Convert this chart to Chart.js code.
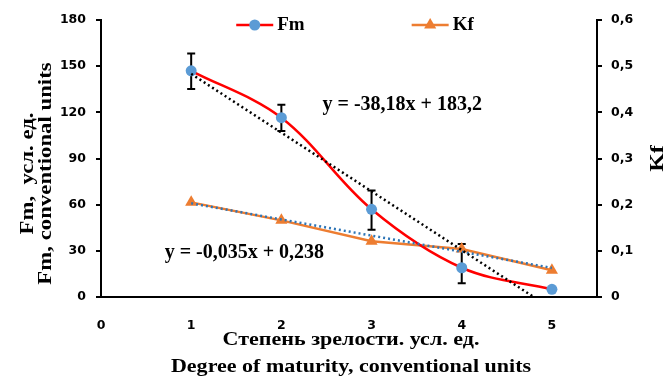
<!DOCTYPE html>
<html>
<head>
<meta charset="utf-8">
<script src="https://cdn.jsdelivr.net/npm/chart.js@4.4.1/dist/chart.umd.min.js"></script>
<style>
  html, body { margin: 0; padding: 0; background: #fff; }
  #wrap { width: 669px; height: 380px; }
</style>
</head>
<body>
<div id="wrap"><canvas id="myChart"></canvas></div>
<script>
const X_VALUES = [1, 2, 3, 4, 5];
const FM_VALUES = [147, 116.5, 57, 19, 5];
const FM_ERR_PLUS = [11.3, 8.5, 12.2, 15.5, 0];
const FM_ERR_MINUS = [11.9, 8.7, 13.3, 10, 0];
const KF_VALUES = [0.205, 0.166, 0.121, 0.104, 0.058];
// trend lines, read at x = 1 and x = 5
const TREND_X = [1, 5];
const FM_TREND = [145, -7.7];
const KF_TREND = [0.203, 0.063];
const FM_TREND_TEXT = "y = -38,18x + 183,2";
const KF_TREND_TEXT = "y = -0,035x + 0,238";
const X_TITLE = ["Степень зрелости. усл. ед.", "Degree of maturity, conventional units"];
const Y_TITLE = ["Fm,  усл. ед.", "Fm, conventional units"];
const Y1_TITLE = "Kf";

const SERIF = "'Liberation Serif', 'Times New Roman', serif";
const TICK_FONT = { family: "'DejaVu Sans', Verdana, sans-serif", size: 12.5, weight: "bold" };

const toPoints = (xs, ys) => xs.map((x, i) => ({ x: x, y: ys[i] }));

const errorBars = {
  id: "errorBars",
  beforeDatasetsDraw(chart) {
    const ctx = chart.ctx;
    const sx = chart.scales.x;
    const sy = chart.scales.y;
    ctx.save();
    ctx.strokeStyle = "#000";
    ctx.lineWidth = 2;
    X_VALUES.forEach((v, i) => {
      if (!FM_ERR_PLUS[i] && !FM_ERR_MINUS[i]) return;
      const px = sx.getPixelForValue(v);
      const top = sy.getPixelForValue(FM_VALUES[i] + FM_ERR_PLUS[i]);
      const bot = sy.getPixelForValue(FM_VALUES[i] - FM_ERR_MINUS[i]);
      ctx.beginPath();
      ctx.moveTo(px, top);
      ctx.lineTo(px, bot);
      ctx.moveTo(px - 4, top);
      ctx.lineTo(px + 4, top);
      ctx.moveTo(px - 4, bot);
      ctx.lineTo(px + 4, bot);
      ctx.stroke();
    });
    ctx.restore();
  },
};

// excel style legend: line with marker, then the name
const lineLegend = {
  id: "lineLegend",
  afterDraw(chart, args, opts) {
    const ctx = chart.ctx;
    const items = chart.data.datasets.filter((d) => !d.isTrend);
    const area = chart.chartArea;
    ctx.save();
    ctx.font = opts.font;
    ctx.textBaseline = "middle";
    const widths = items.map(
      (d) => opts.lineLength + opts.textGap + ctx.measureText(d.label).width
    );
    const total = widths.reduce((a, b) => a + b, 0) + opts.itemGap * (items.length - 1);
    let left = (area.left + area.right) / 2 + opts.shift - total / 2;
    const y = area.top + opts.offsetY;
    items.forEach((d, i) => {
      ctx.strokeStyle = d.borderColor;
      ctx.lineWidth = d.borderWidth;
      ctx.beginPath();
      ctx.moveTo(left, y);
      ctx.lineTo(left + opts.lineLength, y);
      ctx.stroke();
      ctx.fillStyle = d.pointBackgroundColor;
      Chart.helpers.drawPoint(
        ctx,
        { pointStyle: d.pointStyle, radius: d.pointRadius, rotation: 0, borderWidth: 0 },
        left + opts.lineLength / 2,
        y
      );
      ctx.fillStyle = "#000";
      ctx.fillText(d.label, left + opts.lineLength + opts.textGap, y);
      left += widths[i] + opts.itemGap;
    });
    ctx.restore();
  },
};

// trend equations and axis titles (titles are a bit wide, like in the source)
const chartTexts = {
  id: "chartTexts",
  afterDraw(chart, args, o) {
    const ctx = chart.ctx;
    const sx = chart.scales.x;
    const area = chart.chartArea;
    ctx.save();
    ctx.fillStyle = "#000";
    ctx.textAlign = "center";
    ctx.textBaseline = "middle";
    ctx.font = o.font;
    o.labels.forEach((l) => {
      const sy = chart.scales[l.axis];
      ctx.fillText(l.text, sx.getPixelForValue(l.x), sy.getPixelForValue(l.y));
    });

    const drawText = (text, x, y, angle, stretch) => {
      ctx.save();
      ctx.translate(x, y);
      ctx.rotate(angle);
      ctx.scale(stretch, 1);
      ctx.fillText(text, 0, 0);
      ctx.restore();
    };
    ctx.textBaseline = "alphabetic";
    ctx.font = o.titleFont;
    const cx = (area.left + area.right) / 2 + 2;
    X_TITLE.forEach((t, i) => drawText(t, cx, sx.top + o.xBaselines[i], 0, o.xStretch));
    const cy = (area.top + area.bottom) / 2;
    const y = chart.scales.y;
    Y_TITLE.forEach((t, i) =>
      drawText(t, y.left + o.yBaselines[i], cy + o.yShift, -Math.PI / 2, o.yStretch)
    );
    const y1 = chart.scales.y1;
    drawText(Y1_TITLE, y1.right - o.y1Inset, cy, -Math.PI / 2, o.y1Stretch);
    ctx.restore();
  },
};

const ctx = document.getElementById("myChart");
const myChart = new Chart(ctx, {
  type: "scatter",
  data: {
    datasets: [
      {
        label: "Fm trend",
        isTrend: true,
        data: toPoints(TREND_X, FM_TREND),
        showLine: true,
        borderColor: "#000",
        borderWidth: 2.5,
        borderDash: [2, 3],
        pointRadius: 0,
        yAxisID: "y",
        order: 0,
      },
      {
        label: "Kf trend",
        isTrend: true,
        data: toPoints(TREND_X, KF_TREND),
        showLine: true,
        borderColor: "#2E75B6",
        borderWidth: 2.5,
        borderDash: [2, 3],
        pointRadius: 0,
        yAxisID: "y1",
        order: 0,
      },
      {
        label: "Fm",
        data: toPoints(X_VALUES, FM_VALUES),
        showLine: true,
        tension: 0.35,
        borderColor: "#FF0000",
        borderWidth: 2.5,
        pointStyle: "circle",
        pointRadius: 5.5,
        pointBackgroundColor: "#5B9BD5",
        pointBorderWidth: 0,
        yAxisID: "y",
        order: 1,
      },
      {
        label: "Kf",
        data: toPoints(X_VALUES, KF_VALUES),
        showLine: true,
        borderColor: "#ED7D31",
        borderWidth: 2.5,
        pointStyle: "triangle",
        pointRadius: 7,
        pointBackgroundColor: "#ED7D31",
        pointBorderWidth: 0,
        yAxisID: "y1",
        order: 1,
      },
    ],
  },
  options: {
    responsive: true,
    maintainAspectRatio: false,
    animation: false,
    devicePixelRatio: 1,
    layout: { padding: { top: 20 } },
    plugins: {
      legend: { display: false },
      tooltip: { enabled: false },
      lineLegend: {
        font: "bold 19px " + SERIF,
        lineLength: 37,
        textGap: 4,
        itemGap: 107,
        shift: 6,
        offsetY: 5,
      },
      chartTexts: {
        font: "bold 20px " + SERIF,
        titleFont: "bold 19px " + SERIF,
        labels: [
          { text: FM_TREND_TEXT, x: 3.34, y: 125, axis: "y" },
          { text: KF_TREND_TEXT, x: 1.59, y: 29, axis: "y" },
        ],
        xBaselines: [48, 74.5],
        xStretch: 1.16,
        yBaselines: [33, 51],
        yShift: 15,
        yStretch: 1.2,
        y1Inset: 6,
        y1Stretch: 1.25,
      },
    },
    scales: {
      x: {
        type: "linear",
        min: 0,
        max: 5.5,
        afterFit: (s) => { s.height = 83; },
        grid: { display: false },
        border: { color: "#000", width: 2 },
        ticks: {
          stepSize: 1,
          includeBounds: false,
          padding: 13,
          color: "#000",
          font: TICK_FONT,
        },
      },
      y: {
        position: "left",
        min: 0,
        max: 180,
        afterFit: (s) => { s.width = 101; },
        grid: { drawOnChartArea: false, color: "#000", lineWidth: 2, tickLength: 5 },
        border: { color: "#000", width: 2 },
        ticks: { stepSize: 30, padding: 10, color: "#000", font: TICK_FONT },
      },
      y1: {
        position: "right",
        min: 0,
        max: 0.6,
        afterFit: (s) => { s.width = 72; },
        grid: { drawOnChartArea: false, color: "#000", lineWidth: 2, tickLength: 5 },
        border: { color: "#000", width: 2 },
        ticks: {
          stepSize: 0.1,
          padding: 9,
          color: "#000",
          font: TICK_FONT,
          callback: (v) => (v === 0 ? "0" : v.toFixed(1).replace(".", ",")),
        },
      },
    },
  },
  plugins: [errorBars, lineLegend, chartTexts],
});
</script>
</body>
</html>
